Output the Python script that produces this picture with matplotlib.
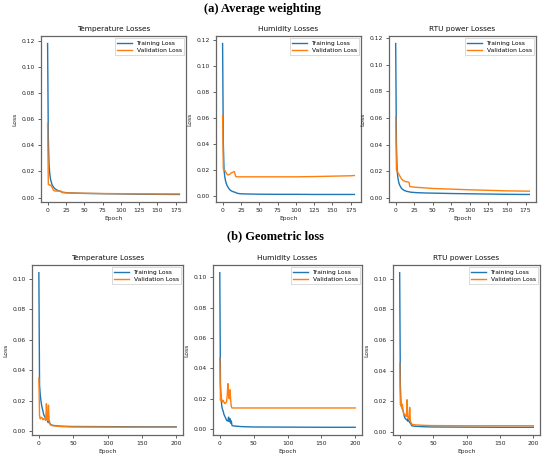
import matplotlib
matplotlib.use("Agg")
import matplotlib.pyplot as plt
from matplotlib.ticker import MultipleLocator

# ---- Data ----
epochs_a = [0, 1, 2, 3, 4, 5, 6, 7, 8, 10, 12, 14, 16, 18, 19, 20, 22, 25, 30, 40, 50, 75, 100, 125, 150, 175, 180]

temp_a_train = [0.118, 0.045, 0.025, 0.018, 0.014, 0.012, 0.010, 0.009, 0.008, 0.0068, 0.006, 0.0055, 0.005, 0.0046, 0.0044, 0.0042, 0.004, 0.0038, 0.0036, 0.0034, 0.0032, 0.003, 0.0028, 0.0026, 0.0025, 0.0024, 0.0024]
temp_a_val = [0.057, 0.010, 0.010, 0.0095, 0.0095, 0.009, 0.008, 0.007, 0.0055, 0.005, 0.005, 0.005, 0.005, 0.005, 0.0045, 0.0038, 0.0037, 0.0036, 0.0035, 0.0034, 0.0033, 0.0031, 0.003, 0.0029, 0.0028, 0.0028, 0.0028]

hum_a_train = [0.117, 0.040, 0.020, 0.015, 0.012, 0.010, 0.0085, 0.0075, 0.0065, 0.005, 0.0042, 0.0037, 0.0033, 0.003, 0.0026, 0.0024, 0.0022, 0.002, 0.0019, 0.0018, 0.0017, 0.0016, 0.0016, 0.0015, 0.0015, 0.0015, 0.0015]
hum_a_val = [0.062, 0.021, 0.0205, 0.020, 0.019, 0.018, 0.017, 0.0165, 0.0165, 0.017, 0.018, 0.0185, 0.019, 0.0152, 0.015, 0.015, 0.015, 0.015, 0.015, 0.015, 0.015, 0.015, 0.015, 0.0152, 0.0155, 0.0158, 0.016]

rtu_a_train = [0.116, 0.040, 0.020, 0.015, 0.012, 0.010, 0.0088, 0.0078, 0.007, 0.006, 0.0054, 0.005, 0.0047, 0.0045, 0.0044, 0.0042, 0.0041, 0.004, 0.0038, 0.0036, 0.0035, 0.0032, 0.003, 0.0028, 0.0026, 0.0025, 0.0025]
rtu_a_val = [0.061, 0.021, 0.020, 0.019, 0.018, 0.017, 0.016, 0.015, 0.014, 0.013, 0.0125, 0.012, 0.012, 0.0115, 0.0085, 0.0083, 0.0082, 0.008, 0.0078, 0.0074, 0.007, 0.0065, 0.006, 0.0056, 0.0052, 0.005, 0.005]

epochs_b = [0, 1, 2, 3, 4, 5, 6, 7, 8, 9, 10, 11, 12, 13, 14, 15, 16, 17, 18, 20, 25, 30, 40, 50, 100, 150, 200]

temp_b_train = [0.104, 0.030, 0.024, 0.020, 0.017, 0.015, 0.013, 0.011, 0.010, 0.009, 0.0085, 0.008, 0.0075, 0.006, 0.0055, 0.007, 0.005, 0.0045, 0.004, 0.0038, 0.0035, 0.0033, 0.0031, 0.003, 0.0029, 0.0028, 0.0028]
temp_b_val = [0.035, 0.010, 0.008, 0.009, 0.009, 0.0085, 0.0075, 0.008, 0.008, 0.0075, 0.007, 0.018, 0.008, 0.007, 0.017, 0.006, 0.005, 0.004, 0.0038, 0.0035, 0.0033, 0.003, 0.0028, 0.0027, 0.0026, 0.0025, 0.0025]

hum_b_train = [0.103, 0.030, 0.020, 0.015, 0.013, 0.012, 0.010, 0.009, 0.008, 0.007, 0.006, 0.0055, 0.0055, 0.008, 0.005, 0.007, 0.004, 0.0055, 0.0025, 0.0022, 0.002, 0.0018, 0.0016, 0.0015, 0.0014, 0.0013, 0.0013]
hum_b_val = [0.047, 0.019, 0.022, 0.019, 0.018, 0.019, 0.018, 0.017, 0.017, 0.0175, 0.018, 0.022, 0.030, 0.024, 0.020, 0.026, 0.020, 0.015, 0.014, 0.014, 0.014, 0.014, 0.014, 0.014, 0.014, 0.014, 0.014]

rtu_b_train = [0.104, 0.030, 0.018, 0.016, 0.015, 0.014, 0.012, 0.010, 0.009, 0.0085, 0.008, 0.0078, 0.007, 0.009, 0.007, 0.006, 0.006, 0.005, 0.004, 0.0038, 0.0036, 0.0035, 0.0033, 0.0032, 0.0031, 0.003, 0.003]
rtu_b_val = [0.045, 0.018, 0.017, 0.016, 0.018, 0.014, 0.012, 0.0115, 0.011, 0.0105, 0.010, 0.021, 0.010, 0.009, 0.008, 0.016, 0.007, 0.006, 0.005, 0.0048, 0.0045, 0.0044, 0.0042, 0.0041, 0.004, 0.004, 0.004]

titles = ["Temperature Losses", "Humidity Losses", "RTU power Losses"]
row_titles = ["(a) Average weighting", "(b) Geometric loss"]
legend_labels = ["Training Loss", "Validation Loss"]

W, H = 550, 458
fig = plt.figure(figsize=(W / 100, H / 100), dpi=100)
fig.patch.set_facecolor("white")

def px_axes(x0, x1, y0, y1):
    return fig.add_axes([x0 / W, 1 - y1 / H, (x1 - x0) / W, (y1 - y0) / H])

rows = [
    dict(epochs=epochs_a,
         series=[(temp_a_train, temp_a_val), (hum_a_train, hum_a_val), (rtu_a_train, rtu_a_val)],
         boxes=[(41, 186), (216, 361), (389, 536)], y=(36, 202), xstep=25),
    dict(epochs=epochs_b,
         series=[(temp_b_train, temp_b_val), (hum_b_train, hum_b_val), (rtu_b_train, rtu_b_val)],
         boxes=[(32, 183), (213, 362), (393, 540)], y=(265, 435), xstep=50),
]

fs = 4.3
for r in rows:
    for (x0, x1), (tr, va), title in zip(r["boxes"], r["series"], titles):
        ax = px_axes(x0, x1, r["y"][0], r["y"][1])
        ax.plot(r["epochs"], tr, color="#1f77b4", lw=1.0, label=legend_labels[0])
        ax.plot(r["epochs"], va, color="#ff7f0e", lw=1.0, label=legend_labels[1])
        ax.xaxis.set_major_locator(MultipleLocator(r["xstep"]))
        ax.yaxis.set_major_locator(MultipleLocator(0.02))
        ax.tick_params(labelsize=fs, length=2.2, width=0.5, pad=2, colors="#222222")
        ax.set_title(title, fontsize=5.3, pad=3.5, color="#111111")
        ax.set_xlabel("Epoch", fontsize=fs, labelpad=2, color="#222222")
        ax.set_ylabel("Loss", fontsize=fs, labelpad=3, color="#222222")
        for s in ax.spines.values():
            s.set_linewidth(0.9)
            s.set_color("#666666")
        leg = ax.legend(loc="upper right", fontsize=fs, handlelength=2.4, borderpad=0.35,
                        labelspacing=0.3, handletextpad=0.8, fancybox=False, framealpha=1,
                        borderaxespad=0.4)
        leg.get_frame().set_linewidth(0.5)
        leg.get_frame().set_edgecolor("#cccccc")

fig.text(262 / W, 1 - 9 / H, row_titles[0], ha="center", va="center", fontsize=9.1,
         fontweight="bold", family="Liberation Serif")
fig.text(275 / W, 1 - 236 / H, row_titles[1], ha="center", va="center", fontsize=9.0,
         fontweight="bold", family="Liberation Serif")

fig.savefig("out.png", dpi=100, facecolor="white")
